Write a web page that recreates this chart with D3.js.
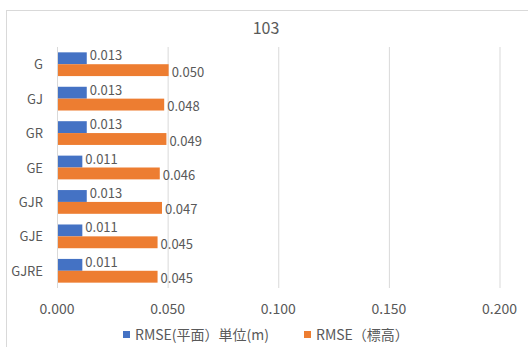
<!DOCTYPE html>
<html>
<head>
<meta charset="utf-8">
<script src="https://cdn.jsdelivr.net/npm/d3@7"></script>
<style>
  body { margin: 0; background: #fff; }
  text { font-family: "Noto Sans CJK JP", "Open Sans", sans-serif; fill: #595959; }
</style>
</head>
<body>
<svg></svg>
<script>
const width = 528
const height = 347

// data
const categories = ["G", "GJ", "GR", "GE", "GJR", "GJE", "GJRE"]
const rmsePlane = [0.013, 0.013, 0.013, 0.011, 0.013, 0.011, 0.011]
const rmseHeight = [0.050, 0.048, 0.049, 0.046, 0.047, 0.045, 0.045]
const xTicks = [0, 0.05, 0.1, 0.15, 0.2]
const seriesNames = ["RMSE(平面）単位(m)", "RMSE（標高）"]
const colors = ["#4472C4", "#ED7D31"]

const margin = { top: 47, left: 57, bottom: 59, right: 28 }

const svg = d3.select("svg")
  .attr("width", width)
  .attr("height", height)

// chart area border
svg.append("rect")
  .attr("x", 6.5).attr("y", 10.5)
  .attr("width", 540).attr("height", 350)
  .attr("fill", "none")
  .attr("stroke", "#d9d9d9")

svg.append("text")
  .attr("x", 266).attr("y", 34)
  .attr("text-anchor", "middle")
  .style("font-size", "16px")
  .text("103")

const x = d3.scaleLinear()
  .domain([0, 0.2])
  .range([margin.left, 499.5])

const y = d3.scaleBand()
  .domain(categories)
  .range([margin.top, height - margin.bottom])

const inner = d3.scaleBand()
  .domain([0, 1])
  .range([0, y.bandwidth()])
  .paddingInner(0)
  .paddingOuter(0.45)

// vertical gridlines
svg.append("g")
  .selectAll("line")
  .data(xTicks)
  .join("line")
  .attr("x1", d => x(d) + 0.5)
  .attr("x2", d => x(d) + 0.5)
  .attr("y1", margin.top)
  .attr("y2", height - margin.bottom)
  .attr("stroke", "#d9d9d9")

// x axis tick labels
svg.append("g")
  .selectAll("text")
  .data(xTicks)
  .join("text")
  .attr("x", d => x(d))
  .attr("y", 314)
  .attr("text-anchor", "middle")
  .style("font-size", "14px")
  .text(d => d3.format(".3f")(d))

// category labels
svg.append("g")
  .selectAll("text")
  .data(categories)
  .join("text")
  .attr("x", 43)
  .attr("y", d => y(d) + y.bandwidth() / 2 + 5)
  .attr("text-anchor", "end")
  .style("font-size", "13px")
  .text(d => d)

const series = [rmsePlane, rmseHeight]

series.forEach((vals, s) => {
  const g = svg.append("g")
  g.selectAll("rect")
    .data(vals)
    .join("rect")
    .attr("x", x(0) + 1)
    .attr("y", (d, i) => y(categories[i]) + inner(s))
    .attr("width", d => x(d) - x(0))
    .attr("height", inner.bandwidth())
    .attr("fill", colors[s])

  g.selectAll("text")
    .data(vals)
    .join("text")
    .attr("x", d => x(d) + 4)
    .attr("y", (d, i) => y(categories[i]) + inner(s) + inner.bandwidth() / 2 + (s === 0 ? 2 : 6.5))
    .style("font-size", "13px")
    .text(d => d3.format(".3f")(d))
})

// legend
const legendX = [123, 304]
const legend = svg.append("g")
  .selectAll("g")
  .data(seriesNames)
  .join("g")
  .attr("transform", (d, i) => `translate(${legendX[i]},335)`)

legend.append("rect")
  .attr("x", 0).attr("y", -4)
  .attr("width", 7).attr("height", 7)
  .attr("fill", (d, i) => colors[i])

legend.append("text")
  .attr("x", 12)
  .attr("y", 5)
  .style("font-size", "14px")
  .text(d => d)
</script>
</body>
</html>
